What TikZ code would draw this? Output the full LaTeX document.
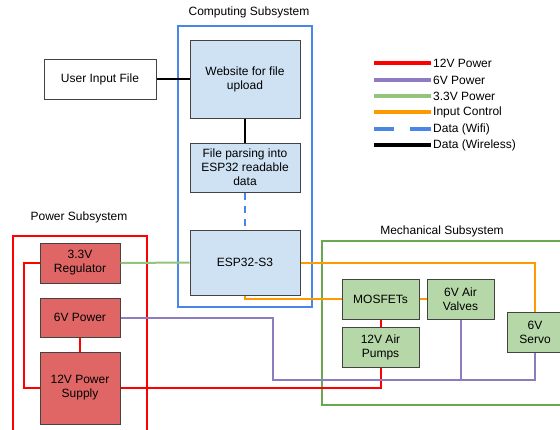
\documentclass[tikz,border=0pt]{standalone}
\usepackage{fontspec}
\setmainfont{Liberation Sans}
\usetikzlibrary{positioning}

\definecolor{compblue}{HTML}{4A86E8}
\definecolor{compfill}{HTML}{CFE2F3}
\definecolor{pwrred}{HTML}{FF0000}
\definecolor{pwrfill}{HTML}{E06666}
\definecolor{mechgreen}{HTML}{6AA84F}
\definecolor{mechfill}{HTML}{B6D7A8}
\definecolor{sixv}{HTML}{8E7CC3}
\definecolor{threev}{HTML}{93C47D}
\definecolor{ctrl}{HTML}{FF9900}
\definecolor{edge}{HTML}{434343}

\tikzset{
  blockbox/.style={draw=edge, line width=1pt, align=center, inner sep=1pt,
    font=\fontsize{12}{14}\selectfont},
  compbox/.style={blockbox, fill=compfill},
  pwrbox/.style={blockbox, fill=pwrfill},
  mechbox/.style={blockbox, fill=mechfill},
  title/.style={font=\fontsize{12}{14}\selectfont},
  wire/.style={line width=2pt},
  legline/.style={line width=4pt},
  legtext/.style={anchor=west, inner sep=0pt, font=\fontsize{12}{14}\selectfont}
}

\begin{document}
\begin{tikzpicture}[x=1pt, y=-1pt]
            \clip (0,0) rectangle (560,429);
            \fill[white] (0,0) rectangle (560,429);
            % subsystem frames
            \draw[compblue, line width=2pt] (178,26) rectangle (312,307);
            \node[title] (comptitle) at (249,12) {Computing Subsystem};
            \draw[pwrred, line width=2pt] (13,236) rectangle (147,445);
            \node[title] (pwrtitle) at (79,217) {Power Subsystem};
            \draw[mechgreen, line width=2pt] (322,241) rectangle (575,405);
            \node[title] (mechtitle) at (442,231) {Mechanical Subsystem};
            % computing blocks
            \node[blockbox, fill=white, minimum width=112, minimum height=40] (user) at (100,79) {User Input File};
            \node[compbox, minimum width=110, minimum height=78] (web) at (245,79) {Website for file\\upload};
            \node[compbox, minimum width=110, minimum height=49] (parse) at (245,167.5) {File parsing into\\ESP32 readable\\data};
            \node[compbox, minimum width=110, minimum height=65] (esp) at (245,262.5) {ESP32-S3};
            % power blocks
            \node[pwrbox, minimum width=80, minimum height=40] (reg) at (80,263) {3.3V\\Regulator};
            \node[pwrbox, minimum width=80, minimum height=39] (sixpwr) at (80,317.5) {6V Power};
            \node[pwrbox, minimum width=80, minimum height=72] (supply) at (80,388) {12V Power\\Supply};
            % mechanical blocks
            \node[mechbox, minimum width=77, minimum height=40] (mosfet) at (380.5,299) {MOSFETs};
            \node[mechbox, minimum width=77, minimum height=40] (pumps) at (380.5,347) {12V Air\\Pumps};
            \node[mechbox, minimum width=67, minimum height=40] (valves) at (460.5,299) {6V Air\\Valves};
            \node[mechbox, minimum width=56, minimum height=40] (servo) at (535,332) {6V\\Servo};
            % data links
            \draw[wire, black] (user.east) -- (web.west);
            \draw[wire, black] (web.south) -- (parse.north);
            \draw[wire, compblue, dash pattern=on 7pt off 6pt] (parse.south) -- (esp.north);
            % power links
            \draw[wire, threev] (reg.east) -- (esp.west);
            \draw[wire, pwrred] (sixpwr.south) -- (supply.north);
            \draw[wire, pwrred] (reg.west) -- ++(-16,0) |- (supply.west);
            \draw[wire, pwrred] (supply.east) -| (pumps.south);
            \draw[wire, pwrred] (mosfet.south) -- (pumps.north);
            \draw[wire, sixv] (sixpwr.east) -| (273,380) -| (servo.south);
            \draw[wire, sixv] (valves.south) -- (valves.south |- 0,380);
            % control links
            \draw[wire, ctrl] (esp.east) -| (servo.north);
            \draw[wire, ctrl] (esp.south) |- (mosfet.west);
            \draw[wire, ctrl] (mosfet.east) -- (valves.west);
            % legend
            \draw[legline, pwrred] (374,63) -- (431,63);
            \node[legtext] (leg1) at (433,63) {12V Power};
            \draw[legline, sixv] (374,80) -- (431,80);
            \node[legtext] (leg2) at (433,80) {6V Power};
            \draw[legline, threev] (374,96) -- (431,96);
            \node[legtext] (leg3) at (433,96) {3.3V Power};
            \draw[legline, ctrl] (374,112) -- (431,112);
            \node[legtext] (leg4) at (433,112) {Input Control};
            \draw[legline, compblue] (374,129) -- (394,129);
            \draw[legline, compblue] (410,129) -- (431,129);
            \node[legtext] (leg5) at (433,129) {Data (Wifi)};
            \draw[legline, black] (374,145) -- (431,145);
            \node[legtext] (leg6) at (433,145) {Data (Wireless)};
\end{tikzpicture}
\end{document}
